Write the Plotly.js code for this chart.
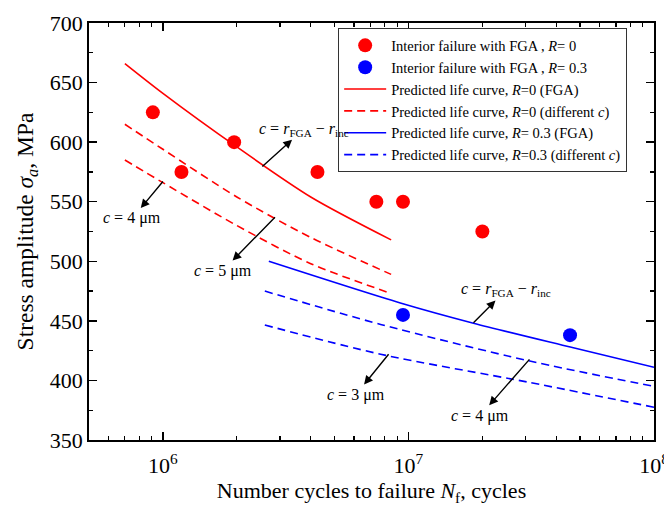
<!DOCTYPE html>
<html>
<head>
<meta charset="utf-8">
<script src="https://cdn.plot.ly/plotly-3.0.1.min.js"></script>
<style>html,body{margin:0;padding:0;background:#fff;}#chart{width:664px;height:506px;}</style>
</head>
<body>
<div id="chart"></div>
<script>
// Experimental data
const redX = [9.1e5, 1.19e6, 1.95e6, 4.26e6, 7.4e6, 9.5e6, 2.0e7];
const redY = [625, 575, 600, 575, 550, 550, 525];
const blueX = [9.5e6, 4.55e7];
const blueY = [455, 438];

// Predicted life curves, R = 0
const redCurveX = [7.0e5, 1.0e6, 2.0e6, 4.0e6, 8.5e6];
const redFGA = [666, 641, 596, 554, 518];
const redC5 = [615, 594, 554, 520, 489];
const redC4 = [585, 566, 530, 498, 473];

// Predicted life curves, R = 0.3
const blueFGAX = [2.7e6, 9.27e6, 1.84e7, 4.56e7, 1.0e8];
const blueFGA = [500, 465, 448, 428, 411];
const blueDashX = [2.6e6, 7.7e6, 3.08e7, 1.0e8];
const blueC3 = [475, 447, 416.5, 395];
const blueC4 = [446.5, 422, 398.5, 377.5];

// Tick labels
const xTickVals = [1e6, 1e7, 1e8];
const xTickText = ['10<sup>6</sup>', '10<sup>7</sup>', '10<sup>8</sup>'];
const xMinorVals = [6e5,7e5,8e5,9e5,2e6,3e6,4e6,5e6,6e6,7e6,8e6,9e6,2e7,3e7,4e7,5e7,6e7,7e7,8e7,9e7];

const serif = 'Liberation Serif, Times New Roman, serif';
const dashPat = '8px,5px';

const traces = [
  {x: redX, y: redY, type: 'scatter', mode: 'markers', name: 'Interior failure with FGA , <i>R</i>= 0',
   marker: {color: '#ff0000', size: 14}},
  {x: blueX, y: blueY, type: 'scatter', mode: 'markers', name: 'Interior failure with FGA , <i>R</i>= 0.3',
   marker: {color: '#0000ff', size: 14}},
  {x: redCurveX, y: redFGA, type: 'scatter', mode: 'lines', name: 'Predicted life curve, <i>R</i>=0 (FGA)',
   line: {color: '#ff0000', width: 1.6, shape: 'spline', smoothing: 0.8}},
  {x: redCurveX, y: redC5, type: 'scatter', mode: 'lines', name: 'Predicted life curve, <i>R</i>=0 (different <i>c</i>)',
   line: {color: '#ff0000', width: 1.6, dash: dashPat, shape: 'spline', smoothing: 0.8}},
  {x: redCurveX, y: redC4, type: 'scatter', mode: 'lines', showlegend: false,
   line: {color: '#ff0000', width: 1.6, dash: dashPat, shape: 'spline', smoothing: 0.8}},
  {x: blueFGAX, y: blueFGA, type: 'scatter', mode: 'lines', name: 'Predicted life curve, <i>R</i>= 0.3 (FGA)',
   line: {color: '#0000ff', width: 1.6, shape: 'spline', smoothing: 0.8}},
  {x: blueDashX, y: blueC3, type: 'scatter', mode: 'lines', name: 'Predicted life curve, <i>R</i>=0.3 (different <i>c</i>)',
   line: {color: '#0000ff', width: 1.6, dash: dashPat, shape: 'spline', smoothing: 0.8}},
  {x: blueDashX, y: blueC4, type: 'scatter', mode: 'lines', showlegend: false,
   line: {color: '#0000ff', width: 1.6, dash: dashPat, shape: 'spline', smoothing: 0.8}}
];

const L = Math.log10;
// labelled arrow: tail on the curve (px, py), text centred at (tx, ty), head pointing at the text
function callout(px, py, tx, ty, txt) {
  return {x: L(px), y: py, ax: L(tx), ay: ty, axref: 'x', ayref: 'y', xref: 'x', yref: 'y',
    text: txt, showarrow: true, arrowside: 'start', arrowhead: 2, startarrowhead: 2,
    arrowsize: 1, startarrowsize: 1.25, arrowwidth: 1.4, arrowcolor: '#000',
    standoff: 0, startstandoff: 1, borderpad: 0,
    font: {family: serif, size: 16, color: '#000'}};
}
const cFGA = '<i>c</i> = <i>r</i><sub>FGA</sub> − <i>r</i><sub>inc</sub>';

const annotations = [
  callout(1.0e6, 567, 7.5e5, 536, '<i>c</i> = 4 μm'),
  callout(2.86e6, 537, 1.75e6, 492, '<i>c</i> = 5 μm'),
  callout(2.54e6, 579.5, 3.75e6, 611, cFGA),
  callout(1.84e7, 448.5, 2.5e7, 476, cFGA),
  callout(8.3e6, 422, 6.1e6, 388, '<i>c</i> = 3 μm'),
  callout(3.11e7, 417.7, 1.96e7, 370.5, '<i>c</i> = 4 μm')
];

const layout = {
  width: 664, height: 506,
  margin: {l: 89, r: 10, t: 23, b: 66},
  paper_bgcolor: '#fff', plot_bgcolor: '#fff',
  font: {family: serif, color: '#000', size: 22},
  showlegend: true,
  legend: {x: 0.441, y: 0.987, xanchor: 'left', yanchor: 'top',
    bgcolor: '#fff', bordercolor: '#333', borderwidth: 1,
    font: {family: serif, size: 14.5, color: '#000'}, tracegroupgap: 0, itemwidth: 42},
  xaxis: {type: 'log', range: [L(5e5), 8], showgrid: false, zeroline: false,
    showline: true, linecolor: '#000', linewidth: 1.8, mirror: 'allticks',
    ticks: 'inside', ticklen: 8, tickwidth: 1.5, tickcolor: '#000',
    tickmode: 'array', tickvals: xTickVals, ticktext: xTickText,
    ticklabeloverflow: 'allow', ticklabelstandoff: 5,
    tickfont: {family: serif, size: 22},
    minor: {tickmode: 'array', tickvals: xMinorVals, ticks: 'inside', ticklen: 4, tickwidth: 1.2, tickcolor: '#000', showgrid: false},
    title: {text: 'Number cycles to failure <i>N</i><sub>f</sub>, cycles', font: {family: serif, size: 22}, standoff: 8}},
  yaxis: {range: [350, 700], showgrid: false, zeroline: false,
    showline: true, linecolor: '#000', linewidth: 1.8, mirror: 'allticks',
    ticks: 'inside', ticklen: 8, tickwidth: 1.5, tickcolor: '#000',
    tickmode: 'linear', tick0: 350, dtick: 50,
    tickfont: {family: serif, size: 22},
    minor: {dtick: 25, ticks: 'inside', ticklen: 4, tickwidth: 1.2, tickcolor: '#000', showgrid: false},
    title: {text: 'Stress amplitude <i>σ</i><sub><i>a</i></sub>, MPa', font: {family: serif, size: 23.5}, standoff: 9}},
  annotations: annotations
};

Plotly.newPlot('chart', traces, layout, {displayModeBar: false, staticPlot: true});
</script>
</body>
</html>
